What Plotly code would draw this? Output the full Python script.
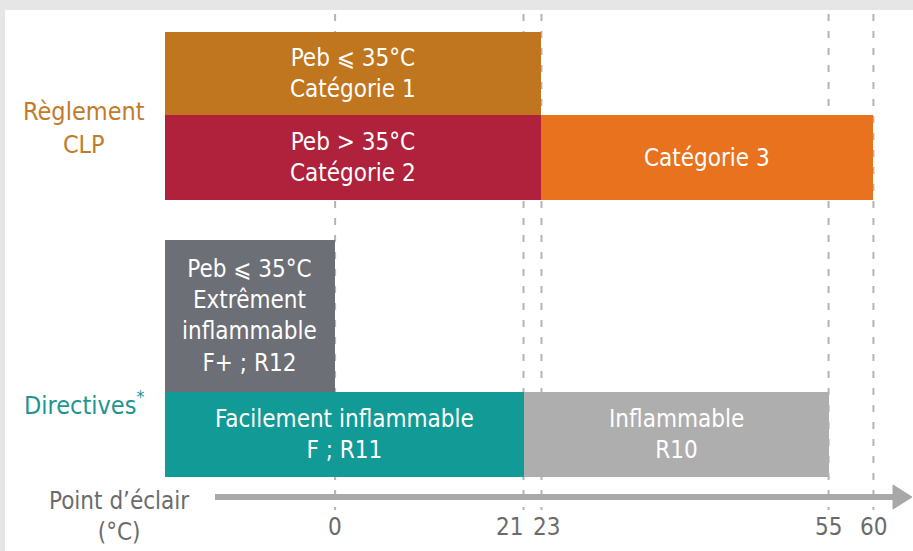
import plotly.graph_objects as go

# ---------------- data ----------------
bar_labels = [
    "Peb ⩽ 35°C<br>Catégorie 1",
    "Peb > 35°C<br>Catégorie 2",
    "Catégorie 3",
    "Peb ⩽ 35°C<br>Extrêment<br>inflammable<br>F+ ; R12",
    "Facilement inflammable<br>F ; R11",
    "Inflammable<br>R10",
]
bar_start = [-19, -19, 23, -19, -19, 21]
bar_end = [23, 23, 60, 0, 21, 55]
tick_values = [0, 21, 23, 55, 60]
tick_labels = ["0", "21", "23", "55", "60"]
group_labels = ["Règlement<br>CLP", "Directives<sup>*</sup>"]
axis_title = "Point d’éclair<br>(°C)"

# ---------------- layout / style ----------------
W, H = 913, 551
FONT = "Liberation Sans Narrow, DejaVu Sans Condensed, Roboto, sans-serif"
bar_colors = ["#bf761e", "#b0223c", "#e8721e", "#6c6f76", "#129a96", "#aeaeae"]
# lanes (top, bottom) in pixel-like y units
lanes = [(32, 115), (115, 200), (115, 200), (240, 392), (392, 477), (392, 477)]
X_RANGE = [-37.35, 64.41]
tick_xshift = [0, -14, 5, 0, 0]
AXIS_GRAY = "#a8a8a8"

fig = go.Figure()

for lab, s, e, c, (t, b) in zip(bar_labels, bar_start, bar_end, bar_colors, lanes):
    fig.add_trace(go.Bar(
        orientation="h",
        y=[(t + b) / 2], x=[e - s], base=[s], width=[b - t],
        marker=dict(color=c, line=dict(width=0)),
        hoverinfo="skip", showlegend=False,
    ))
    fig.add_annotation(
        x=(s + e) / 2, y=(t + b) / 2, xref="x", yref="y",
        text=lab, showarrow=False, xanchor="center", yanchor="middle",
        font=dict(family=FONT, size=24, color="white"),
        align="center",
    )

shapes = [
    dict(type="rect", xref="paper", yref="paper", x0=5 / W, x1=1, y0=0, y1=1 - 10 / H,
         fillcolor="white", line=dict(width=0), layer="below"),
]
for v in tick_values:
    shapes.append(dict(type="line", xref="x", yref="y", x0=v, x1=v, y0=14, y1=510,
                       line=dict(color="#b4b4b4", width=2, dash="7px,10px"), layer="below"))

# arrow axis (shaft + head)
shapes.append(dict(type="line", xref="paper", yref="y", x0=215 / W, x1=896 / W, y0=497, y1=497,
                   line=dict(color=AXIS_GRAY, width=6)))
shapes.append(dict(type="path", xref="paper", yref="y",
                   path=f"M {893 / W},{485} L {912 / W},{497} L {893 / W},{509} Z",
                   fillcolor=AXIS_GRAY, line=dict(color=AXIS_GRAY, width=1)))

# axis tick labels
for v, t, sh in zip(tick_values, tick_labels, tick_xshift):
    fig.add_annotation(x=v, y=527, xref="x", yref="y", text=t, showarrow=False,
                       xanchor="center", yanchor="middle", xshift=sh,
                       font=dict(family=FONT, size=24, color="#6b6b6b"))

# group labels
fig.add_annotation(x=84 / W, y=128, xref="paper", yref="y", text=group_labels[0],
                   showarrow=False, xanchor="center", yanchor="middle",
                   font=dict(family=FONT, size=25, color="#c17b2a"))
fig.add_annotation(x=84 / W, y=403, xref="paper", yref="y", text=group_labels[1],
                   showarrow=False, xanchor="center", yanchor="middle",
                   font=dict(family=FONT, size=25, color="#1f9590"))
fig.add_annotation(x=119 / W, y=516, xref="paper", yref="y", text=axis_title,
                   showarrow=False, xanchor="center", yanchor="middle",
                   font=dict(family=FONT, size=24, color="#6b6b6b"))

fig.update_layout(
    width=W, height=H,
    margin=dict(l=0, r=0, t=0, b=0),
    paper_bgcolor="#e6e6e6", plot_bgcolor="rgba(0,0,0,0)",
    barmode="overlay", bargap=0,
    shapes=shapes,
    xaxis=dict(range=X_RANGE, visible=False, fixedrange=True),
    yaxis=dict(range=[H, 0], visible=False, fixedrange=True),
)

fig.write_html(
    "out.html",
    config={"displayModeBar": False},
    post_script="document.body.style.margin='0';document.body.style.background='#e6e6e6';",
)
